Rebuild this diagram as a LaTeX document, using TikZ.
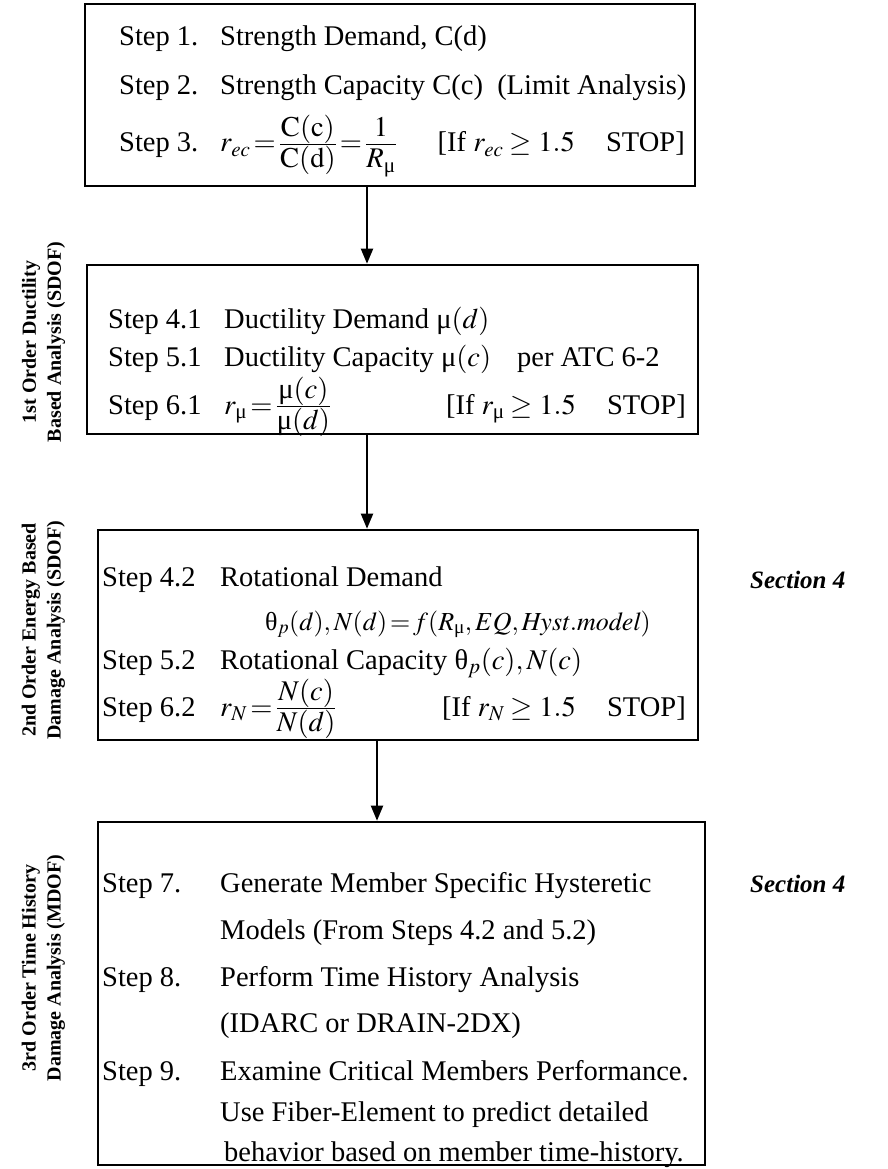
\documentclass[tikz,border=0pt]{standalone}
\usepackage{amsmath}
\usepackage{mathptmx}
\usepackage{fontspec}
\setmainfont{Liberation Serif}
\usetikzlibrary{arrows.meta}
\newcommand{\mmu}{\text{μ}}
\newcommand{\mth}{\text{θ}}
\newcommand{\eqs}{\mkern2mu{=}\mkern2mu}
\newcommand{\cfr}[2]{\tfrac{\displaystyle #1\vphantom{)}}{\displaystyle \rule{0pt}{0.75em}#2}}
\begin{document}
\begin{tikzpicture}[x=1pt,y=-1pt,
  box/.style={draw, line width=2.6pt, inner sep=0pt},
  txt/.style={anchor=base west, inner sep=0pt, font=\fontsize{28.5}{33}\selectfont},
  rtxt/.style={anchor=base east, inner sep=0pt, font=\fontsize{28.5}{33}\selectfont},
  side/.style={rotate=90, align=center, inner sep=0pt, font=\bfseries\fontsize{20}{25}\selectfont},
  sect/.style={anchor=base west, inner sep=0pt, font=\bfseries\itshape\fontsize{25}{30}\selectfont},
  arr/.style={line width=2pt, -{Triangle[length=15pt,width=12pt]}}]
\useasboundingbox (0,0) rectangle (888,1169);
% boxes
\node[box, minimum width=610pt, minimum height=182pt] (b1) at (390,95) {};
\node[box, minimum width=611pt, minimum height=169pt] (b2) at (392.5,349.5) {};
\node[box, minimum width=600pt, minimum height=210pt] (b3) at (398,635) {};
\node[box, minimum width=607pt, minimum height=343pt] (b4) at (401.5,993.5) {};
% arrows
\coordinate (a1) at (367,0);
\coordinate (a3) at (377,0);
\draw[arr] (b1.south -| a1) -- (b2.north -| a1);
\draw[arr] (b2.south -| a1) -- (b3.north -| a1);
\draw[arr] (b3.south -| a3) -- (b4.north -| a3);
% side labels
\node[side] (l1) at (43.5,342) {1st Order Ductility\\Based Analysis (SDOF)};
\node[side] (l2) at (43.5,630) {2nd Order Energy Based\\Damage Analysis (SDOF)};
\node[side] (l3) at (43.5,968) {3rd Order Time History\\Damage Analysis (MDOF)};
% section labels
\node[sect] (sec1) at (750,588) {Section 4};
\node[sect] (sec2) at (750,892) {Section 4};
% box 1
\node[txt] (s1) at (119,46) {Step 1.};
\node[txt] (t1) at (220,46) {Strength Demand, C(d)};
\node[txt] (s2) at (119,95) {Step 2.};
\node[txt] (t2) at (220,95) {Strength Capacity C(c)\ \ (Limit Analysis)};
\node[txt] (s3) at (119,152) {Step 3.};
\node[txt] (t3) at (220,152) {$r_{ec}\eqs\cfr{\mathrm{C(c)}}{\mathrm{C(d)}}\eqs\cfr{1}{R_{\mmu}}$};
\node[rtxt] (k3) at (685,152) {[If $r_{ec}\geq 1.5$\hspace{1.1em}STOP]};
% box 2
\node[txt] (s41) at (108,328) {Step 4.1};
\node[txt] (t41) at (224,328) {Ductility Demand $\mmu(d)$};
\node[txt] (s51) at (108,366) {Step 5.1};
\node[txt] (t51) at (224,366) {Ductility Capacity $\mmu(c)$};
\node[txt] (p51) at (517,366) {per ATC 6-2};
\node[txt] (s61) at (108,414) {Step 6.1};
\node[txt] (t61) at (224,414) {$r_{\mmu}\eqs\cfr{\mmu(c)}{\mmu(d)}$};
\node[rtxt] (k61) at (686,414) {[If $r_{\mmu}\geq 1.5$\hspace{1.1em}STOP]};
% box 3
\node[txt] (s42) at (102,586) {Step 4.2};
\node[txt] (t42) at (220,586) {Rotational Demand};
\node[txt, font=\fontsize{26}{30}\selectfont] (f42) at (265,630) {$\mth_p(d), N(d)\eqs f(R_{\mmu}, EQ, \mathit{Hyst.model})$};
\node[txt] (s52) at (102,669) {Step 5.2};
\node[txt] (t52) at (220,669) {Rotational Capacity $\mth_p(c), N(c)$};
\node[txt] (s62) at (102,716) {Step 6.2};
\node[txt] (t62) at (220,716) {$r_N\eqs\cfr{N(c)}{N(d)}$};
\node[rtxt] (k62) at (686,716) {[If $r_N\geq 1.5$\hspace{1.1em}STOP]};
% box 4
\node[txt] (s7) at (102,892) {Step 7.};
\node[txt] (t7a) at (220,892) {Generate Member Specific Hysteretic};
\node[txt] (t7b) at (220,939) {Models (From Steps 4.2 and 5.2)};
\node[txt] (s8) at (102,986) {Step 8.};
\node[txt] (t8a) at (220,986) {Perform Time History Analysis};
\node[txt] (t8b) at (220,1032) {(IDARC or DRAIN-2DX)};
\node[txt] (s9) at (102,1080) {Step 9.};
\node[txt] (t9a) at (220,1080) {Examine Critical Members Performance.};
\node[txt] (t9b) at (220,1121) {Use Fiber-Element to predict detailed};
\node[txt] (t9c) at (224,1161) {behavior based on member time-history.};
\end{tikzpicture}
\end{document}
